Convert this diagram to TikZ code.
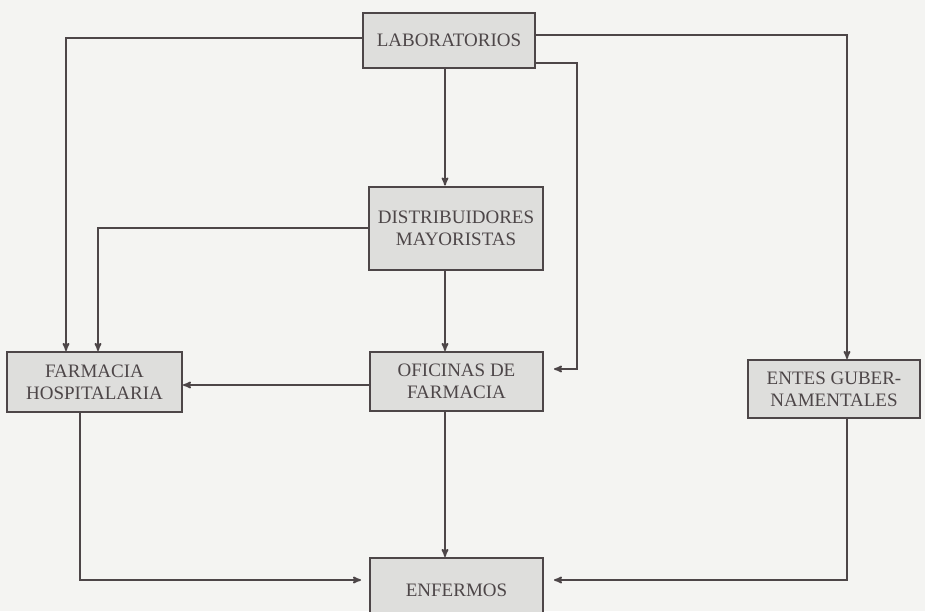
\documentclass[tikz,border=0pt]{standalone}
\usepackage{fontspec}
\setmainfont{Liberation Serif}
\usepackage{tikz}
\usetikzlibrary{arrows}
\usepackage{xcolor}

\definecolor{ink}{HTML}{4D4648}
\definecolor{boxfill}{HTML}{DEDEDC}
\definecolor{paper}{HTML}{F4F4F2}

\begin{document}
\begin{tikzpicture}[x=1pt,y=-1pt,>=stealth']
    \tikzset{box/.style = {shape=rectangle, draw=ink, line width=2pt, fill=boxfill, text=ink,
        align=center, inner sep=0pt, font=\fontsize{19}{22}\selectfont}}
    \tikzset{link/.style = {draw=ink, line width=1.7pt, ->}}

    % page
    \fill[paper] (0,0) rectangle (925,611);
    \useasboundingbox (0,0) rectangle (925,611);
    \coordinate (spine) at (445,0);
    \coordinate (low) at (0,580);

    % boxes
    \node[box, minimum width=172, minimum height=55] (lab) at (449,40.5) {LABORATORIOS};
    \node[box, minimum width=174, minimum height=83] (dist) at (456,228) {DISTRIBUIDORES\\MAYORISTAS};
    \node[box, minimum width=173, minimum height=59] (ofic) at (456.5,381.5) {OFICINAS DE\\FARMACIA};
    \node[box, minimum width=175, minimum height=60] (hosp) at (94.5,382) {FARMACIA\\HOSPITALARIA};
    \node[box, minimum width=172, minimum height=58] (entes) at (834,389) {ENTES GUBER-\\NAMENTALES};
    \begin{scope}
        \clip (0,0) rectangle (925,611);
        \node[box, minimum width=173, minimum height=64] (enf) at (456.5,590) {ENFERMOS};
    \end{scope}

    % links
    \draw[link] (lab.south -| spine) -- (dist.north -| spine);
    \draw[link] (dist.south -| spine) -- (ofic.north -| spine);
    \draw[link] (ofic.south -| spine) -- (enf.north -| spine);
    \draw[link] ([yshift=2.5pt]lab.west) -| ([xshift=-28.5pt]hosp.north);
    \draw[link] (dist.west) -| ([xshift=3.5pt]hosp.north);
    \draw[link] ([yshift=5.5pt]lab.east) -| ([xshift=13pt]entes.north);
    \draw[link, shorten >=10pt] ([yshift=-22.5pt]lab.east) -- ++(41,0) |- ([yshift=12.5pt]ofic.east);
    \draw[link] ([yshift=-3.5pt]ofic.west) -- ([yshift=-3.5pt]ofic.west -| hosp.east);
    \draw[link, shorten >=8pt] ([xshift=-14.5pt]hosp.south) |- (enf.west |- low);
    \draw[link, shorten >=10pt] ([xshift=13pt]entes.south) |- (enf.east |- low);
\end{tikzpicture}
\end{document}
